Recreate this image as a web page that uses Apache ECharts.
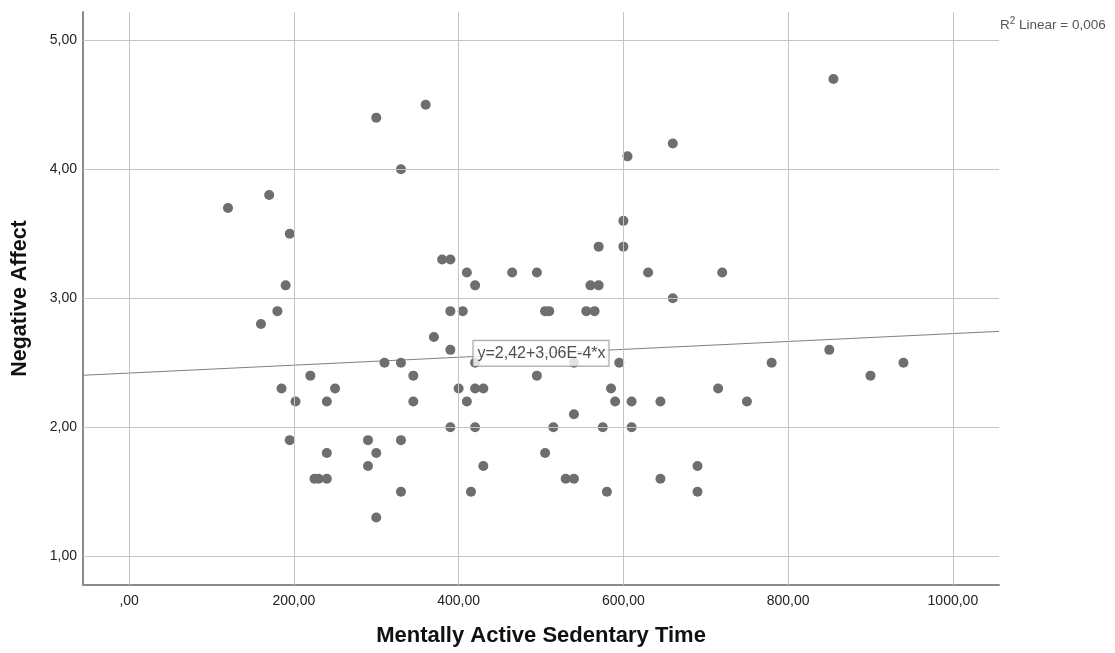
<!DOCTYPE html>
<html>
<head>
<meta charset="utf-8">
<script src="https://cdn.jsdelivr.net/npm/echarts@6/dist/echarts.min.js"></script>
<style>
html,body{margin:0;padding:0;background:#fff;}
#chart{width:1115px;height:653px;}
</style>
</head>
<body>
<div id="chart"></div>
<script>
// ---- data ----
const sedentaryTime = [120,170,195,190,180,160,185,202,220,195,225,230,240,240,240,250,290,290,300,300,300,310,330,330,330,330,345,345,360,370,380,390,390,390,390,400,405,410,410,415,420,420,420,420,430,430,465,495,495,505,510,505,515,530,540,540,540,555,560,565,570,570,575,580,585,590,595,600,600,605,610,610,630,645,645,660,660,690,690,715,720,750,780,850,855,900,940];
const negativeAffect = [3.7,3.8,3.5,3.1,2.9,2.8,2.3,2.2,2.4,1.9,1.6,1.6,1.6,2.2,1.8,2.3,1.9,1.7,1.8,1.3,4.4,2.5,2.5,4.0,1.9,1.5,2.4,2.2,4.5,2.7,3.3,3.3,2.9,2.6,2.0,2.3,2.9,3.2,2.2,1.5,3.1,2.5,2.3,2.0,2.3,1.7,3.2,3.2,2.4,2.9,2.9,1.8,2.0,1.6,1.6,2.1,2.5,2.9,3.1,2.9,3.4,3.1,2.0,1.5,2.3,2.2,2.5,3.6,3.4,4.1,2.2,2.0,3.2,2.2,1.6,4.2,3.0,1.7,1.5,2.3,3.2,2.2,2.5,2.6,4.7,2.4,2.5];
const xTicks = [0,200,400,600,800,1000];
const xTickLabels = [',00','200,00','400,00','600,00','800,00','1000,00'];
const yTicks = [1,2,3,4,5];
const yTickLabels = ['1,00','2,00','3,00','4,00','5,00'];
const fitIntercept = 2.42;
const fitSlope = 3.06e-4;
const fitLabel = 'y=2,42+3,06E-4*x';
const rSquaredLabel = '0,006';
const xTitle = 'Mentally Active Sedentary Time';
const yTitle = 'Negative Affect';

// ---- axis extents ----
const xMin = -56, xMax = 1056;
const yMin = 0.777, yMax = 5.219;
const labelX = 500;

const FONT = '"Liberation Sans", Arial, sans-serif';
const points = sedentaryTime.map((x, i) => [x, negativeAffect[i]]);
const fitLine = [[xMin, fitIntercept + fitSlope * xMin], [xMax, fitIntercept + fitSlope * xMax]];

const chart = echarts.init(document.getElementById('chart'), null, {renderer: 'canvas'});
chart.setOption({
  animation: false,
  backgroundColor: '#ffffff',
  textStyle: {fontFamily: FONT},
  title: {
    left: 1000, top: 16, padding: 0,
    text: '{a|R}{s|2}{a| Linear = ' + rSquaredLabel + '}',
    textStyle: {
      fontWeight: 'normal',
      rich: {
        a: {fontFamily: FONT, fontSize: 13.5, fontWeight: 'normal', color: '#555', verticalAlign: 'bottom'},
        s: {fontFamily: FONT, fontSize: 10, fontWeight: 'normal', color: '#555', verticalAlign: 'bottom', padding: [0, 0, 6, 0]}
      }
    }
  },
  grid: {left: 83, right: 116, top: 12, bottom: 68, containLabel: false, outerBoundsMode: 'none'},
  xAxis: {
    type: 'value', min: xMin, max: xMax,
    name: xTitle, nameLocation: 'middle', nameGap: 40,
    nameTextStyle: {fontFamily: FONT, fontSize: 22, fontWeight: 'bold', color: '#111'},
    axisLine: {show: true, onZero: false, lineStyle: {color: '#8a8a8a', width: 2}},
    axisTick: {show: false},
    splitLine: {show: false},
    axisLabel: {
      customValues: xTicks, margin: 9,
      fontFamily: FONT, fontSize: 14, color: '#222',
      formatter: v => xTickLabels[xTicks.indexOf(v)]
    }
  },
  yAxis: {
    type: 'value', min: yMin, max: yMax,
    name: yTitle, nameLocation: 'middle', nameGap: 52, nameRotate: 90,
    nameTextStyle: {fontFamily: FONT, fontSize: 21.5, fontWeight: 'bold', color: '#111'},
    axisLine: {show: true, onZero: false, lineStyle: {color: '#8a8a8a', width: 2}},
    axisTick: {show: false},
    splitLine: {show: false},
    axisLabel: {
      customValues: yTicks, margin: 6,
      fontFamily: FONT, fontSize: 14, color: '#222',
      formatter: v => yTickLabels[yTicks.indexOf(v)]
    }
  },
  series: [
    {
      type: 'line', data: [], z: 1, silent: true,
      markLine: {
        silent: true, symbol: ['none', 'none'], animation: false,
        label: {show: false},
        lineStyle: {color: '#c4c4c4', width: 1, type: 'solid'},
        emphasis: {disabled: true},
        data: xTicks.map(v => ({xAxis: v})).concat(yTicks.map(v => ({yAxis: v})))
      }
    },
    {
      type: 'line', data: fitLine, z: 2, silent: true,
      symbol: 'none', lineStyle: {color: '#808080', width: 1}
    },
    {
      type: 'scatter', data: points, z: 3,
      symbol: 'circle', symbolSize: 10,
      itemStyle: {color: '#6e6e6e', opacity: 1}
    },
    {
      type: 'scatter', z: 4, silent: true,
      data: [[labelX, fitIntercept + fitSlope * labelX]],
      symbolSize: 0,
      label: {
        show: true, position: 'inside', formatter: fitLabel,
        fontFamily: FONT, fontSize: 16, color: '#222',
        backgroundColor: '#fff', borderColor: '#8a8a8a', borderWidth: 1,
        padding: [5, 3, 4, 4]
      }
    }
  ]
});
</script>
</body>
</html>
